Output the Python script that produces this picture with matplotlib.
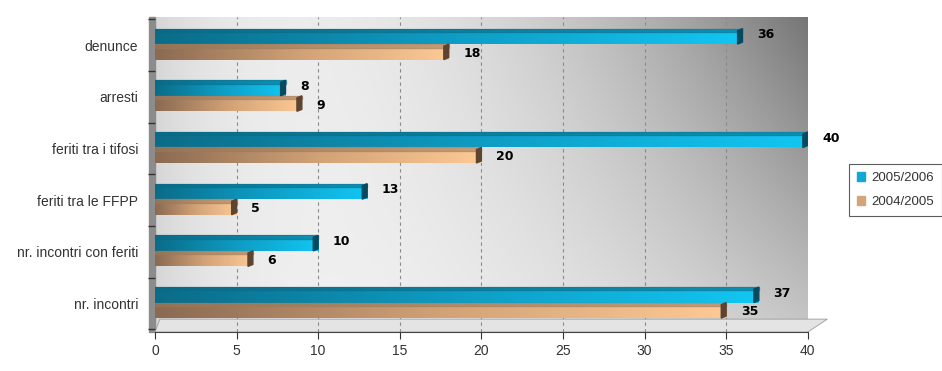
import numpy as np
import matplotlib.pyplot as plt
from matplotlib.patches import Rectangle, Polygon
from matplotlib.colors import LinearSegmentedColormap

categories = ['denunce', 'arresti', 'feriti tra i tifosi', 'feriti tra le FFPP',
              'nr. incontri con feriti', 'nr. incontri']
s2006 = [36, 8, 40, 13, 10, 37]
s2005 = [18, 9, 20, 5, 6, 35]
series_names = ['2005/2006', '2004/2005']

plt.rcParams['font.family'] = ['Liberation Sans', 'DejaVu Sans']

fig = plt.figure(figsize=(9.42, 3.71), dpi=100)
ax = fig.add_axes([0.1645, 0.105, 0.693, 0.85])

xmax = 40
ax.set_xlim(0, xmax)
ax.set_ylim(5.55, -0.55)

# background gradient (white in the middle, grey to the right)
gx, gy = np.meshgrid(np.linspace(0, 1, 300), np.linspace(0, 1, 150))
val = 0.96 - 0.5 * gx ** 2.2 * (0.35 + 0.65 * (1 - gy)) - 0.12 * (1 - gx) ** 8
val = np.clip(val, 0, 1)
ax.imshow(np.dstack([val, val, val]), extent=[0, xmax, 5.55, -0.55],
          aspect='auto', zorder=0, interpolation='bilinear')

# left wall and floor
ax.add_patch(Rectangle((-0.35, -0.55), 0.35, 6.1, color='#8c8c8c', clip_on=False, zorder=1))
ax.add_patch(Polygon([[0, 5.55], [0.3, 5.3], [xmax + 1.2, 5.3], [xmax, 5.55]],
                     closed=True, color='#e4e4e4', ec='#9a9a9a', lw=0.6, clip_on=False, zorder=1))

for v in range(5, 40, 5):
    ax.axvline(v, color='#8a8a8a', ls=(0, (3, 3)), lw=0.8, zorder=1)

cm_blue = LinearSegmentedColormap.from_list('b', ['#0a6c88', '#0e9cc4', '#12c6f2'])
cm_peach = LinearSegmentedColormap.from_list('p', ['#8a6a52', '#d2a276', '#fdc995'])
top_blue = '#0b6a86'
top_peach = '#9a7a5c'
cap_blue = '#064a60'
cap_peach = '#5c4430'

h = 0.3
offs = [-0.17, 0.13]
cmaps = [cm_blue, cm_peach]
tops = [top_blue, top_peach]
caps = [cap_blue, cap_peach]
grad = np.linspace(0, 1, 256).reshape(1, -1)

for si, vals in enumerate([s2006, s2005]):
    for i, v in enumerate(vals):
        y0 = i + offs[si] - h / 2
        rect = Rectangle((0, y0), v, h, fc='none', ec='none', zorder=3)
        ax.add_patch(rect)
        im = ax.imshow(grad, cmap=cmaps[si], extent=[0, v, y0 + h, y0],
                       aspect='auto', zorder=3, interpolation='bilinear')
        im.set_clip_path(rect)
        ax.add_patch(Rectangle((0, y0), v, h * 0.22, color=tops[si], alpha=0.55, zorder=4))
        ax.add_patch(Polygon([[v - 0.3, y0 + 0.04], [v, y0], [v, y0 + h - 0.04], [v - 0.3, y0 + h]],
                             closed=True, color=caps[si], zorder=5))
        ax.text(v + 0.9, i + offs[si] + (-0.03 if si == 0 else 0.03), str(v),
                fontsize=9, fontweight='bold', family='DejaVu Sans',
                va='center', ha='left', color='black', zorder=6, clip_on=False)

ax.set_yticks(np.arange(len(categories)))
ax.set_yticklabels(categories, fontsize=10, color='#333333')
ax.set_yticks(np.arange(len(categories) + 1) - 0.5, minor=True)
ax.tick_params(axis='y', which='major', length=0, pad=12)
ax.tick_params(axis='y', which='minor', length=5, color='#333333', width=1)
ax.set_xticks(range(0, 41, 5))
ax.tick_params(axis='x', labelsize=10, labelcolor='#333333', length=5, color='#333333')

for s in ['top', 'right']:
    ax.spines[s].set_visible(False)
ax.spines['left'].set_visible(False)
ax.spines['bottom'].set_color('#444444')

# legend
handles = [Rectangle((0, 0), 1, 1, color='#10a8d8'), Rectangle((0, 0), 1, 1, color='#d4a47a')]
leg = fig.legend(handles, series_names, loc='upper left', bbox_to_anchor=(0.894, 0.575),
                 fontsize=9.5, frameon=True, fancybox=False, handlelength=0.6, handleheight=0.6,
                 handletextpad=0.5, borderpad=0.6, labelspacing=0.9)
leg.get_frame().set_edgecolor('#333333')
leg.get_frame().set_linewidth(0.8)
for t in leg.get_texts():
    t.set_color('#333333')

fig.savefig('out.png', dpi=100)
